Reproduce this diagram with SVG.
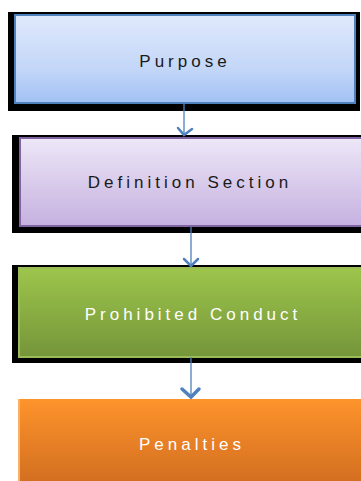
<svg xmlns="http://www.w3.org/2000/svg" width="361" height="481" viewBox="0 0 361 481">
<defs>
<linearGradient id="gBlue" x1="0" y1="0" x2="0" y2="1"><stop offset="0" stop-color="#dfe9fc"/><stop offset="0.6" stop-color="#c4d7f8"/><stop offset="1" stop-color="#a2c1f4"/></linearGradient>
<linearGradient id="gPurple" x1="0" y1="0" x2="0" y2="1"><stop offset="0" stop-color="#ede7f7"/><stop offset="1" stop-color="#c5b1e0"/></linearGradient>
<linearGradient id="gGreen" x1="0" y1="0" x2="0" y2="1"><stop offset="0" stop-color="#9dc54b"/><stop offset="1" stop-color="#75953a"/></linearGradient>
<linearGradient id="gOrange" x1="0" y1="0" x2="0" y2="1"><stop offset="0" stop-color="#fe942c"/><stop offset="1" stop-color="#d36f20"/></linearGradient>
</defs>
<style>
.frame{fill:#000}
.lbl{font-family:"Liberation Sans",Arial,sans-serif;font-size:17px;letter-spacing:4px;text-anchor:middle}
.dark{fill:#1a1a1a}
.light{fill:#ffffff}
.conn{stroke:#4f81bd;stroke-width:1.3;fill:none}
.head{stroke:#4f81bd;stroke-width:2.5;fill:none;stroke-linecap:round}
</style>
<g id="node-purpose">
<rect class="frame" x="8" y="12" width="352" height="99"/>
<rect x="15" y="15" width="340" height="88" fill="url(#gBlue)" stroke="#4f81bd" stroke-width="2"/>
<text class="lbl dark" x="185" y="67">Purpose</text>
</g>
<g id="node-definition">
<rect class="frame" x="12" y="135" width="349" height="98"/>
<rect x="20" y="138" width="343" height="88" fill="url(#gPurple)" stroke="#8064a2" stroke-width="2"/>
<text class="lbl dark" x="190" y="188">Definition Section</text>
</g>
<g id="node-prohibited">
<rect class="frame" x="12" y="265" width="349" height="98"/>
<rect x="19" y="268" width="344" height="89" fill="url(#gGreen)" stroke="#9bbb59" stroke-width="2"/>
<text class="lbl light" x="193" y="320">Prohibited Conduct</text>
</g>
<g id="node-penalties">
<rect x="18" y="399" width="343" height="82" fill="url(#gOrange)"/>
<rect x="18" y="399" width="2" height="82" fill="#fbb06a"/>
<text class="lbl light" x="192" y="450">Penalties</text>
</g>
<g id="connectors">
<line class="conn" x1="184" y1="103" x2="184" y2="136"/>
<polyline class="head" points="178,128 184,135 192,129"/>
<line class="conn" x1="191" y1="227" x2="191" y2="267"/>
<polyline class="head" points="184,259 191,266 198,259"/>
<line class="conn" x1="191" y1="357" x2="191" y2="398"/>
<polyline class="head" points="182,389 191,397 199,389" style="stroke-width:3.5"/>
</g>
</svg>
